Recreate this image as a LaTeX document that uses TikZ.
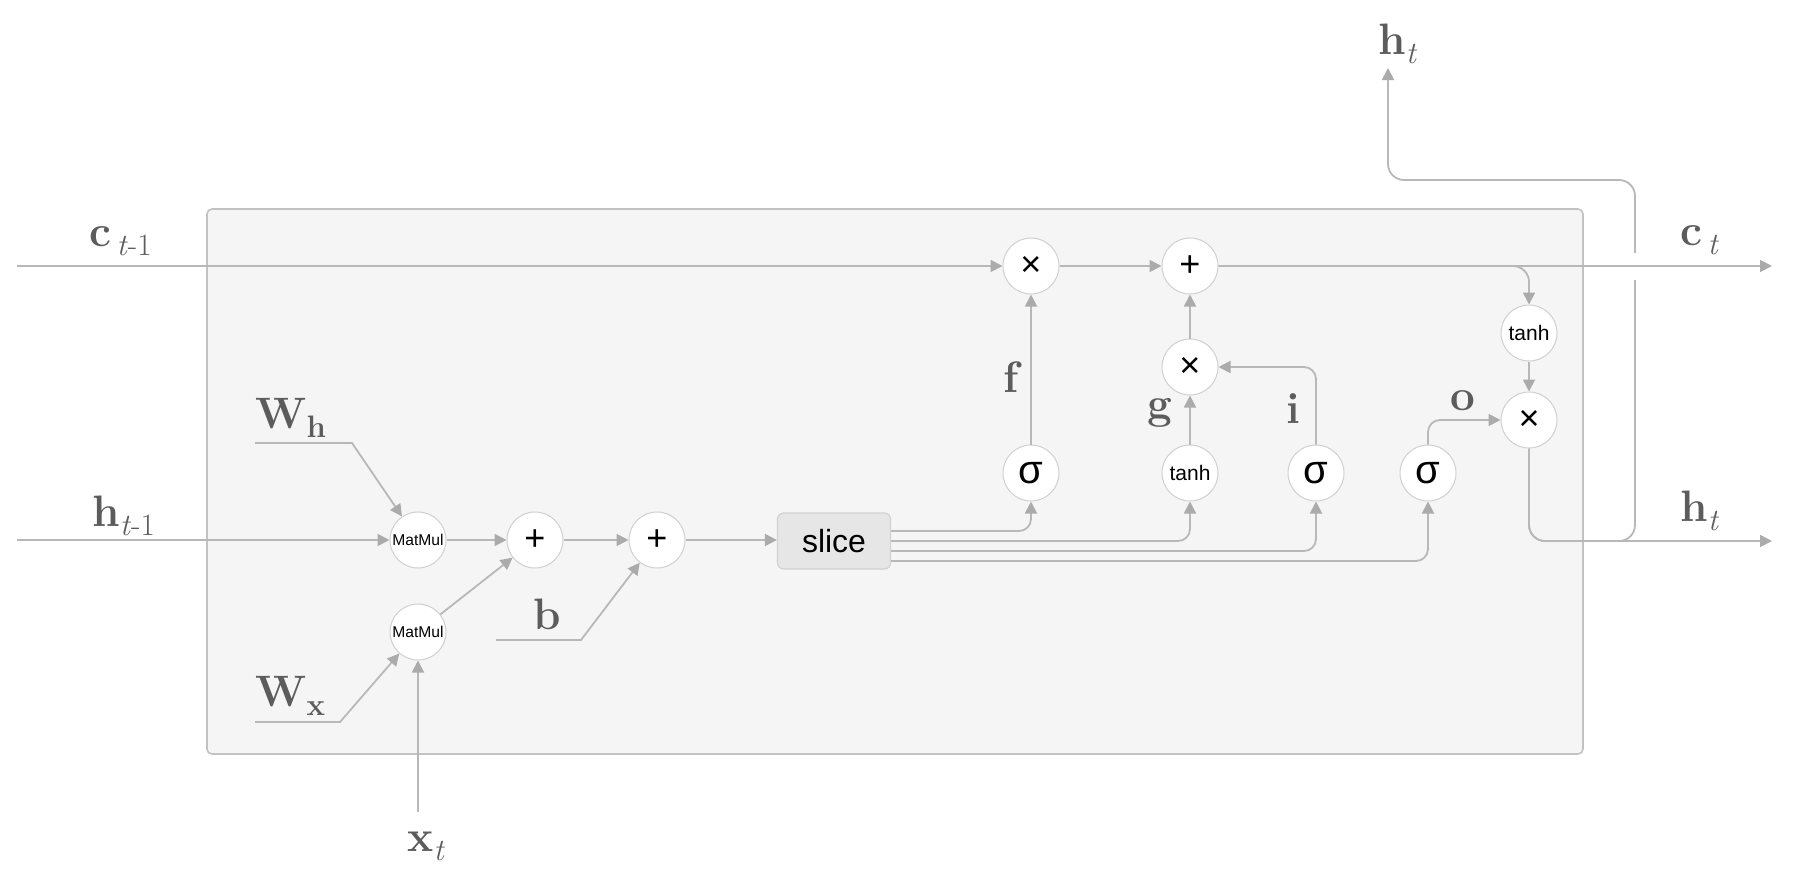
\documentclass[tikz,border=0pt]{standalone}
\usepackage{fontspec}
\newfontfamily\sansf{Liberation Sans}
\usetikzlibrary{arrows.meta,calc}
\definecolor{lg}{HTML}{B8B8B8}
\definecolor{tipg}{HTML}{ABABAB}
\definecolor{cg}{HTML}{D0D0D0}
\definecolor{boxfill}{HTML}{F5F5F5}
\definecolor{boxedge}{HTML}{C2C2C2}
\definecolor{slicefill}{HTML}{E6E6E6}
\definecolor{sliceedge}{HTML}{D2D2D2}
\definecolor{labelg}{HTML}{5C5C5C}
\newcommand\mylab[2]{\textbf{#1}\raisebox{-0.22em}{\fontsize{15.5}{18}\selectfont #2}}
\tikzset{
  op/.style={circle, draw=cg, line width=0.5pt, fill=white, minimum size=28pt, inner sep=0pt, text=black},
  opbig/.style={op, font=\sansf\fontsize{18}{20}\selectfont},
  opsig/.style={op, font=\sansf\fontsize{20}{22}\selectfont},
  optanh/.style={op, font=\sansf\fontsize{10.5}{12}\selectfont},
  opmm/.style={op, font=\sansf\fontsize{7.8}{9}\selectfont},
  wire/.style={draw=lg, line width=0.9pt},
  conn/.style={wire, -{Triangle[length=6pt,width=6pt,color=tipg]}},
  lbl/.style={anchor=base west, inner sep=0pt, text=labelg, font=\fontsize{22}{26}\selectfont},
}
\begin{document}
\begin{tikzpicture}[x=0.5pt,y=-0.5pt]
\useasboundingbox (0,0) rectangle (1800,884);
% cell box
\draw[draw=boxedge, fill=boxfill, line width=0.8pt, rounded corners=2.5pt] (207,209) rectangle (1583,754);

% operation nodes
\node[opmm] (mm1) at (418,540) {MatMul};
\node[opmm] (mm2) at (418,632) {MatMul};
\node[opbig] (p1) at (535,540) {+};
\node[opbig] (p2) at (657,540) {+};
\node[rectangle, rounded corners=3pt, draw=sliceedge, line width=0.6pt, fill=slicefill, minimum width=56.5pt, minimum height=28pt, inner sep=0pt, font=\sansf\fontsize{16}{18}\selectfont] (slice) at (834,541) {slice};
\node[opsig] (sigf) at (1031,473) {σ};
\node[optanh] (tanhg) at (1190,473) {tanh};
\node[opsig] (sigi) at (1316,473) {σ};
\node[opsig] (sigo) at (1428,473) {σ};
\node[opbig] (xf) at (1031,266) {×};
\node[opbig] (pc) at (1190,266) {+};
\node[opbig] (xgi) at (1190,367) {×};
\node[optanh] (tanhc) at (1529,333) {tanh};
\node[opbig] (xo) at (1529,420) {×};

% free ends
\coordinate (cin) at (17,266);
\coordinate (hin) at (17,540);
\coordinate (xin) at (418,812);
\coordinate (cout) at (1772,266);
\coordinate (hout) at (1772,541);
\coordinate (htop) at (1388,68);
\coordinate (hj) at (1635,541);
\coordinate (hk) at (1635,180);
\coordinate (wh1) at (255,443);
\coordinate (wh2) at (352,443);
\coordinate (wx1) at (255,722);
\coordinate (wx2) at (340,722);
\coordinate (b1) at (496,640);
\coordinate (b2) at (581,640);

% labels
\node[lbl] (lct1) at (89,246) {\mylab{c}{\,\textit{t}-1}};
\node[lbl] (lht1) at (92,526) {\mylab{h}{\textit{t}-1}};
\node[lbl] (lwh) at (255,428) {\mylab{W}{\textbf{h}}};
\node[lbl] (lwx) at (255,706) {\mylab{W}{\textbf{x}}};
\node[lbl] (lb) at (533,629) {\textbf{b}};
\node[lbl] (lxt) at (407,851) {\mylab{x}{\textit{t}}};
\node[lbl] (lf) at (1003,392) {\textbf{f}};
\node[lbl] (lg) at (1147,418) {\textbf{g}};
\node[lbl] (li) at (1286,423) {\textbf{i}};
\node[lbl] (lo) at (1450,410) {\textbf{o}};
\node[lbl] (lht) at (1378,54) {\mylab{h}{\textit{t}}};
\node[lbl] (lct) at (1680,245) {\mylab{c}{\,\textit{t}}};
\node[lbl] (lhto) at (1680,521) {\mylab{h}{\textit{t}}};

% input side
\draw[conn] (cin) -- (xf);
\draw[conn] (hin) -- (mm1);
\draw[conn] (wh1) -- (wh2) -- (mm1);
\draw[conn] (wx1) -- (wx2) -- (mm2);
\draw[conn] (xin) -- (mm2);
\draw[conn] (mm1) -- (p1);
\draw[conn] (mm2) -- (p1);
\draw[conn] (p1) -- (p2);
\draw[conn] (b1) -- (b2) -- (p2);
\draw[conn] (p2) -- (p2 -| slice.west);

% slice outputs
\draw[conn, rounded corners=6pt] ([yshift=5pt]slice.east) -| (sigf.south);
\draw[conn, rounded corners=6pt] (slice.east) -| (tanhg.south);
\draw[conn, rounded corners=6pt] ([yshift=-5pt]slice.east) -| (sigi.south);
\draw[conn, rounded corners=6pt] ([yshift=-10pt]slice.east) -| (sigo.south);

% gates
\draw[conn] (sigf) -- (xf);
\draw[conn] (tanhg) -- (xgi);
\draw[conn, rounded corners=6pt] (sigi.north) |- (xgi.east);
\draw[conn] (xgi) -- (pc);
\draw[conn] (xf) -- (pc);
\draw[conn, rounded corners=6pt] (sigo.north) |- (xo.west);
\draw[conn, rounded corners=8pt] (pc.east) -| (tanhc.north);
\draw[conn] (tanhc) -- (xo);

% outputs
\draw[conn, rounded corners=8pt] (xo.south) |- (hj) -- (hk) -| (htop);
\fill[white] (1629,253) rectangle (1641,280);
\draw[conn] (pc) -- (cout);
\draw[conn, rounded corners=8pt] (xo.south) |- (hout);
\end{tikzpicture}
\end{document}
